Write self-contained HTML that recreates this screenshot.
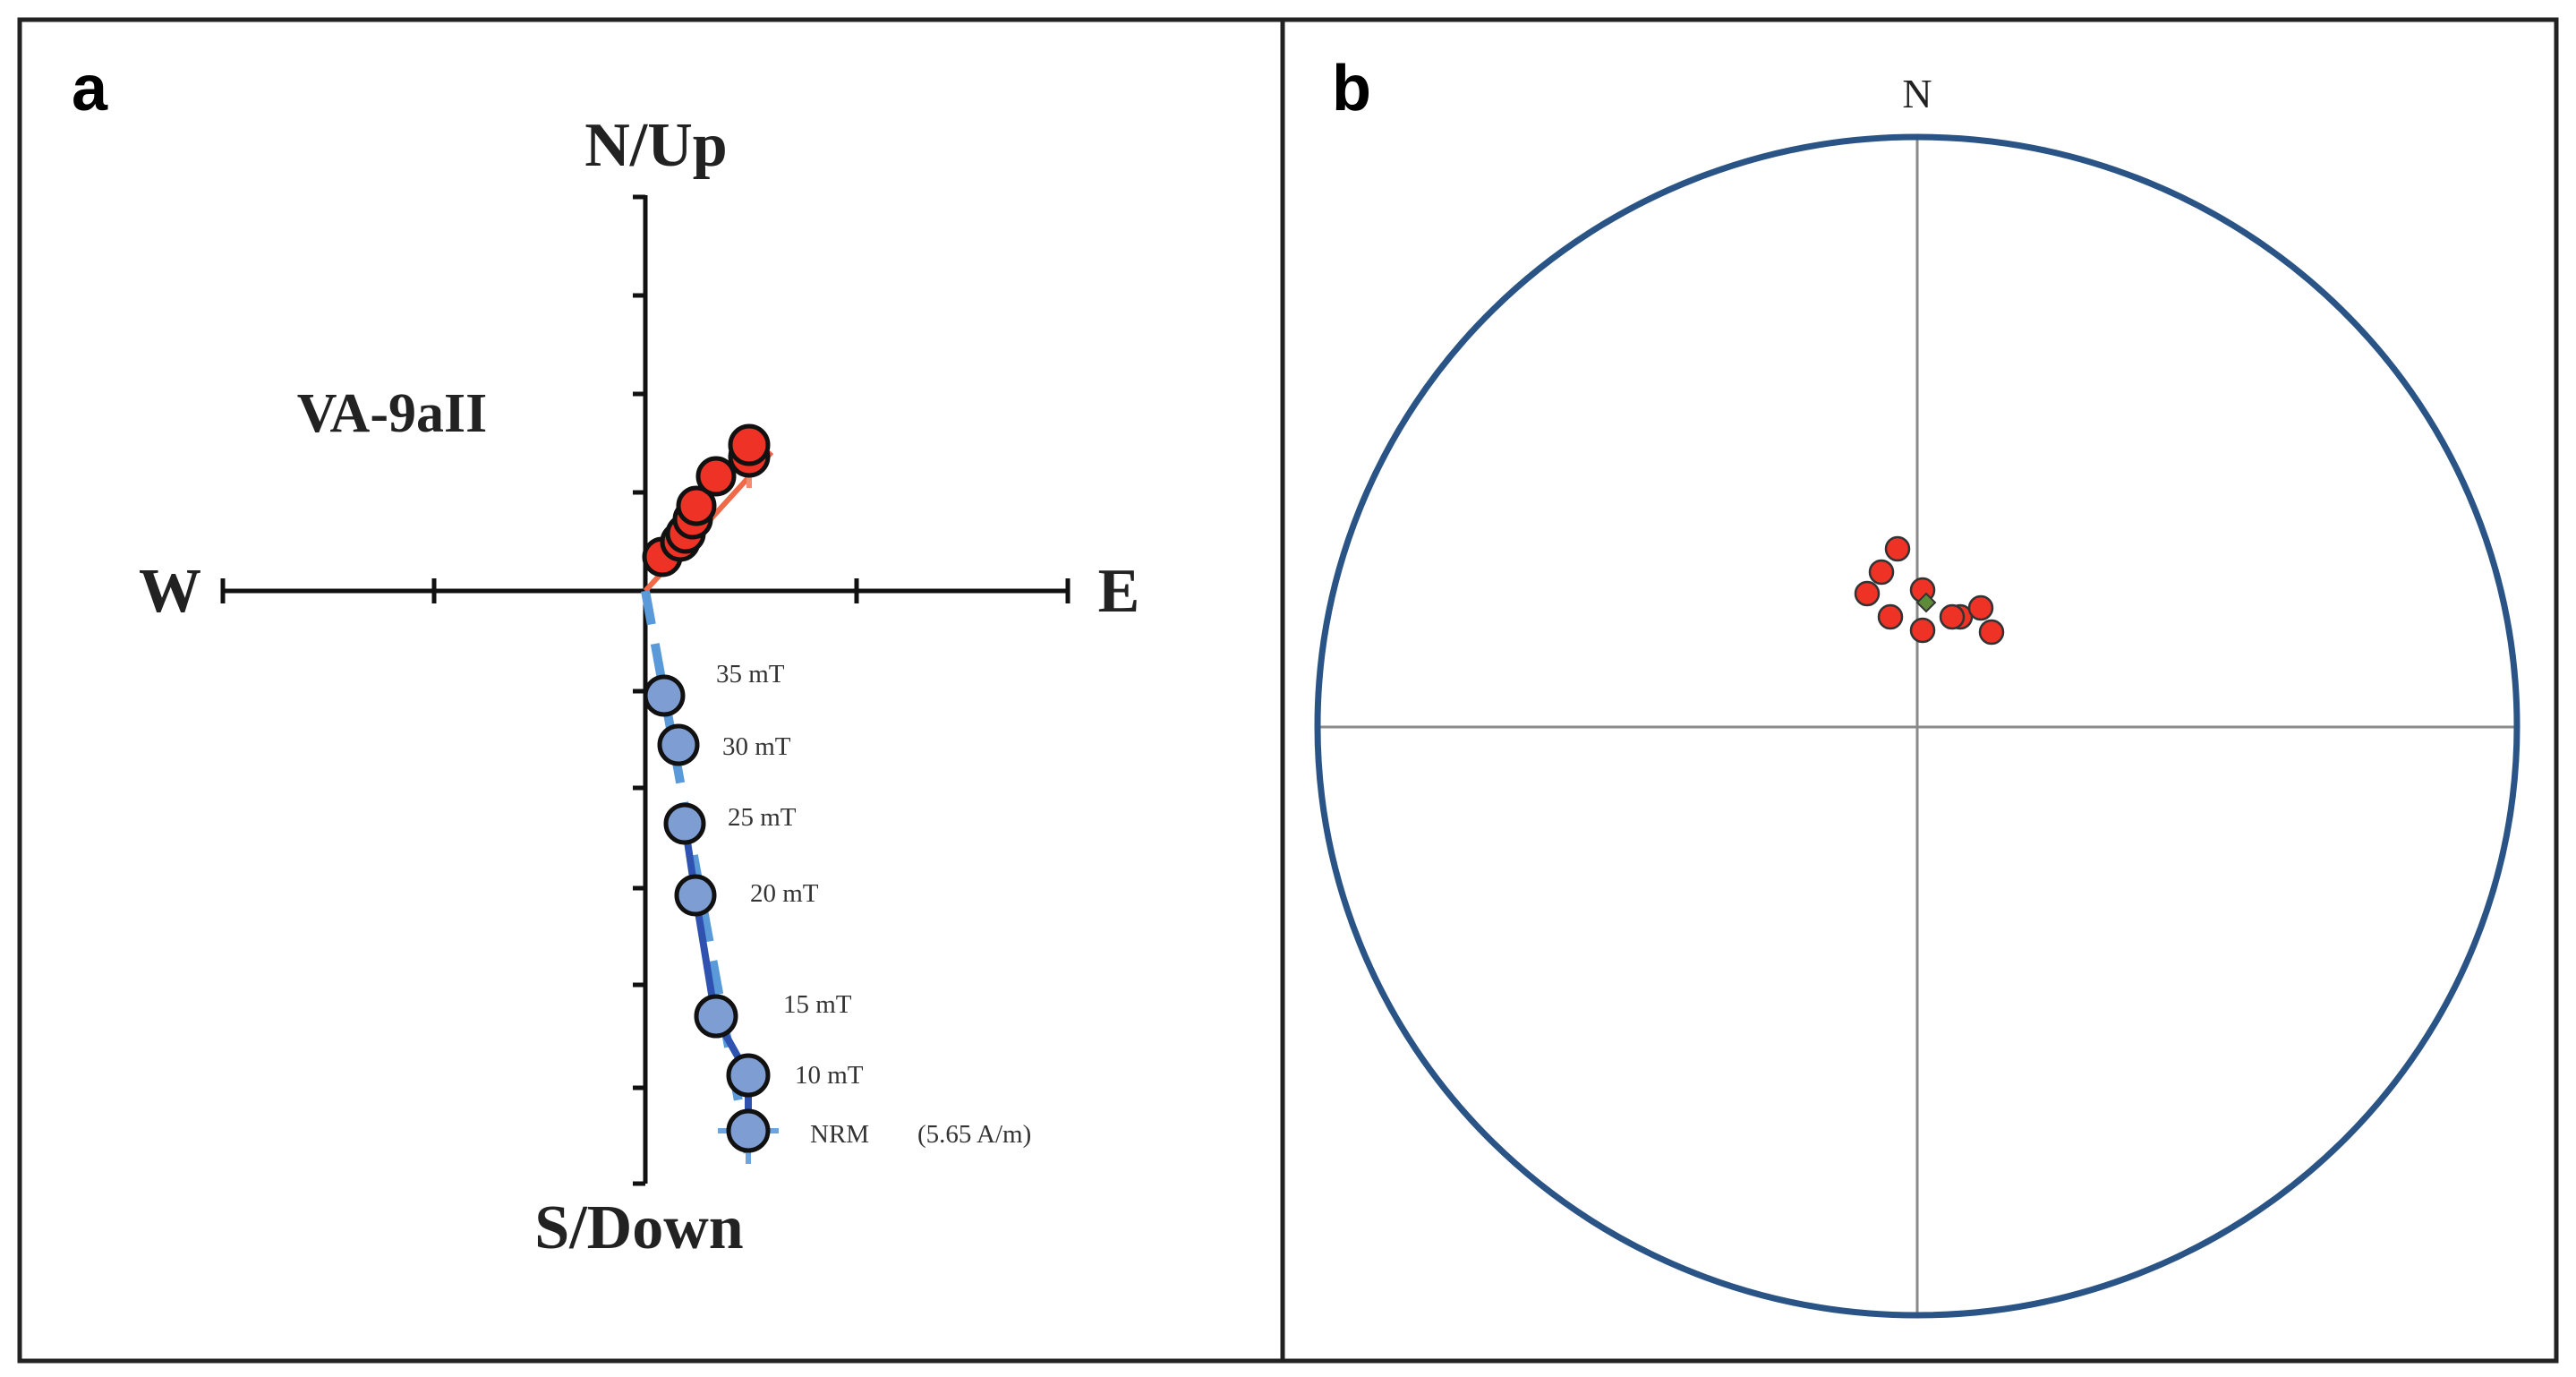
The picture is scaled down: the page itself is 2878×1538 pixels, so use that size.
<!DOCTYPE html>
<html><head><meta charset="utf-8"><style>
html,body{margin:0;padding:0;background:#fff;}
svg{display:block;}
</style></head><body>
<svg width="2878" height="1538" viewBox="0 0 2878 1538" xmlns="http://www.w3.org/2000/svg">
<rect x="0" y="0" width="2878" height="1538" fill="#fff"/>
<!-- frame -->
<rect x="22" y="22" width="2834" height="1498" fill="none" stroke="#222" stroke-width="5"/>
<line x1="1433" y1="22" x2="1433" y2="1520" stroke="#222" stroke-width="5"/>

<!-- Panel a -->
<text x="80" y="123" font-family="Liberation Sans, sans-serif" font-weight="bold" font-size="72">a</text>
<g font-family="Liberation Serif, serif" font-weight="bold" fill="#222">
<text x="733" y="185" font-size="70" text-anchor="middle">N/Up</text>
<text x="190" y="683" font-size="70" text-anchor="middle">W</text>
<text x="1250" y="683" font-size="70" text-anchor="middle">E</text>
<text x="714" y="1394" font-size="70" text-anchor="middle">S/Down</text>
<text x="438" y="482" font-size="62" text-anchor="middle">VA-9aII</text>
</g>
<!-- axes -->
<g stroke="#111" stroke-width="5" fill="none">
<line x1="721" y1="218" x2="721" y2="1322"/>
<line x1="249" y1="660" x2="1193" y2="660"/>
<line x1="707" y1="220" x2="721" y2="220"/>
<line x1="707" y1="330" x2="721" y2="330"/>
<line x1="707" y1="440" x2="721" y2="440"/>
<line x1="707" y1="550" x2="721" y2="550"/>
<line x1="707" y1="772" x2="721" y2="772"/>
<line x1="707" y1="880" x2="721" y2="880"/>
<line x1="707" y1="992" x2="721" y2="992"/>
<line x1="707" y1="1100" x2="721" y2="1100"/>
<line x1="707" y1="1215" x2="721" y2="1215"/>
<line x1="707" y1="1322" x2="721" y2="1322"/>
<line x1="249" y1="646" x2="249" y2="674"/>
<line x1="485" y1="646" x2="485" y2="674"/>
<line x1="957" y1="646" x2="957" y2="674"/>
<line x1="1193" y1="646" x2="1193" y2="674"/>
</g>
<!-- red line -->
<line x1="721" y1="660" x2="862" y2="505" stroke="#f06a4a" stroke-width="6"/>
<line x1="837" y1="530" x2="837" y2="545" stroke="#f58a70" stroke-width="6"/>
<!-- blue lines -->
<line x1="721" y1="660" x2="836" y2="1290" stroke="#5a9ad8" stroke-width="10" stroke-dasharray="38,22"/>
<polyline points="765,920 777,1000 799,1135 836,1201 836,1263" fill="none" stroke="#2f52b0" stroke-width="8"/>
<line x1="802" y1="1263" x2="870" y2="1263" stroke="#6ea4de" stroke-width="6"/>
<line x1="836" y1="1263" x2="836" y2="1300" stroke="#6ea4de" stroke-width="6"/>
<!-- red points -->
<g fill="#ee3226" stroke="#111" stroke-width="5">
<circle cx="740" cy="622" r="20"/>
<circle cx="760" cy="605" r="20"/>
<circle cx="766" cy="596" r="20"/>
<circle cx="774" cy="580" r="20"/>
<circle cx="778" cy="565" r="20"/>
<circle cx="800" cy="532" r="20"/>
<circle cx="837" cy="510" r="21"/>
<circle cx="837" cy="497" r="21"/>
</g>
<!-- blue points -->
<g fill="#7e9dd2" stroke="#111" stroke-width="5">
<circle cx="742" cy="777" r="21"/>
<circle cx="758" cy="832" r="21"/>
<circle cx="765" cy="920" r="21"/>
<circle cx="777" cy="1000" r="21"/>
<circle cx="800" cy="1135" r="22"/>
<circle cx="836" cy="1201" r="22"/>
<circle cx="836" cy="1263" r="22"/>
</g>
<g font-family="Liberation Serif, serif" font-size="29" fill="#333">
<text x="800" y="762">35 mT</text>
<text x="807" y="843">30 mT</text>
<text x="813" y="922">25 mT</text>
<text x="838" y="1007">20 mT</text>
<text x="875" y="1131">15 mT</text>
<text x="888" y="1210">10 mT</text>
<text x="905" y="1276">NRM</text>
<text x="1025" y="1276">(5.65 A/m)</text>
</g>

<!-- Panel b -->
<text x="1488" y="123" font-family="Liberation Sans, sans-serif" font-weight="bold" font-size="72">b</text>
<text x="2142" y="120" font-family="Liberation Serif, serif" font-size="46" text-anchor="middle" fill="#222">N</text>
<line x1="2142" y1="150" x2="2142" y2="1470" stroke="#8a8a8a" stroke-width="3"/>
<line x1="1472" y1="812" x2="2812" y2="812" stroke="#8a8a8a" stroke-width="3"/>
<ellipse cx="2142" cy="811" rx="670" ry="658" fill="none" stroke="#2a5486" stroke-width="7"/>
<g fill="#ee3226" stroke="#333" stroke-width="2.5">
<circle cx="2120" cy="613" r="13"/>
<circle cx="2102" cy="639" r="13"/>
<circle cx="2086" cy="663" r="13"/>
<circle cx="2148" cy="659" r="13"/>
<circle cx="2112" cy="689" r="13"/>
<circle cx="2148" cy="704" r="13"/>
<circle cx="2190" cy="689" r="13"/>
<circle cx="2181" cy="689" r="13"/>
<circle cx="2213" cy="679" r="13"/>
<circle cx="2225" cy="706" r="13"/>
</g>
<polygon points="2152,663 2162,673 2152,683 2142,673" fill="#5e8a3a" stroke="#333" stroke-width="2"/>
</svg>
</body></html>
